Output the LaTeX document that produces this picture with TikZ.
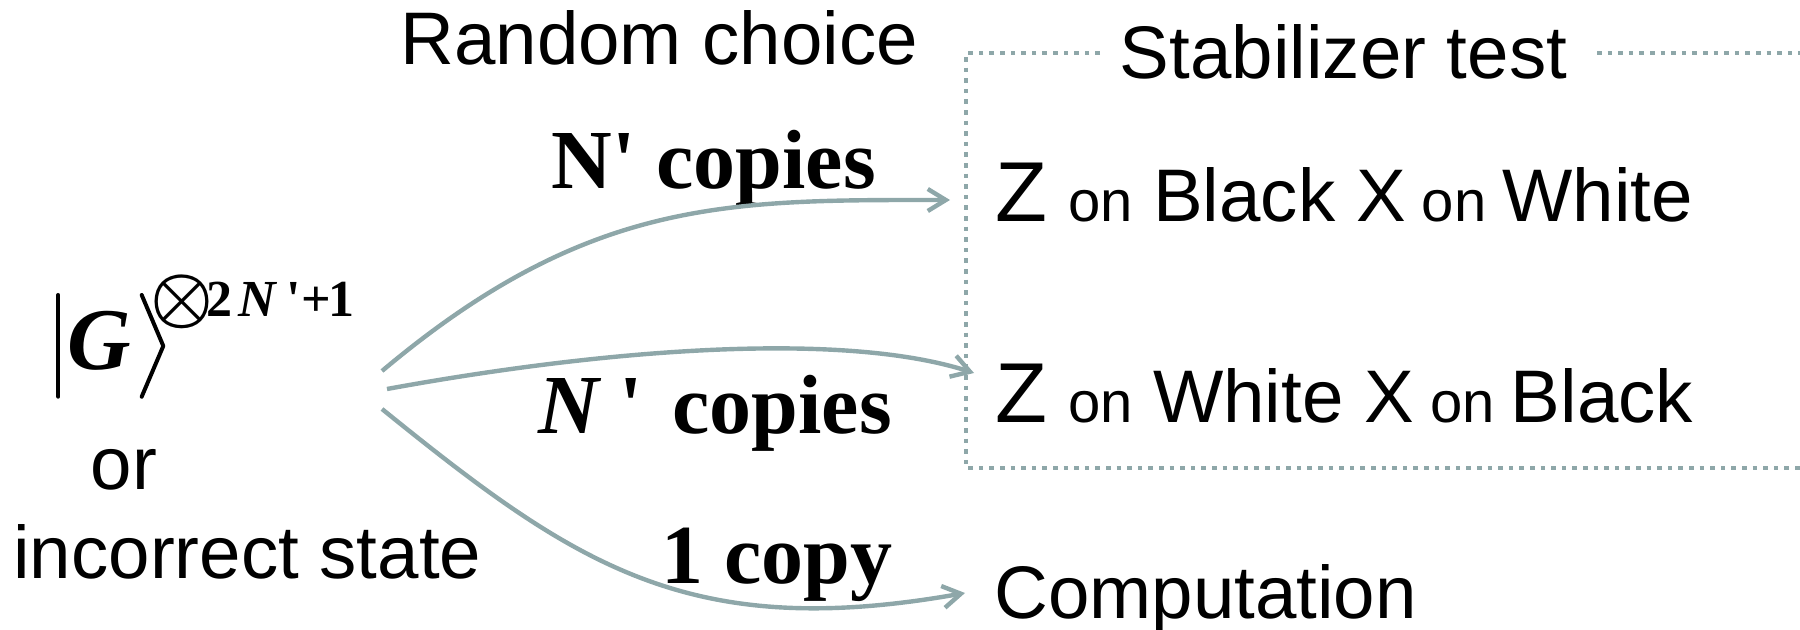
\documentclass[tikz,border=0pt]{standalone}
\usepackage{fontspec}
\usepackage{graphicx}
\setmainfont{Liberation Sans}
\newfontfamily\tnr{Liberation Serif}[Ligatures=TeXOff]
\usetikzlibrary{arrows.meta}
\definecolor{arr}{HTML}{8EA7A9}
\newcommand\zsize{\fontsize{42.5pt}{50pt}\selectfont}
\newcommand\onsize{\fontsize{29pt}{34pt}\selectfont}
\begin{document}
\begin{tikzpicture}[x=0.5pt,y=-0.5pt,
  txt/.style={anchor=base west, inner sep=0pt, font=\fontsize{37.25pt}{44pt}\selectfont},
  lbl/.style={anchor=base west, inner sep=0pt, font=\tnr\bfseries\fontsize{42pt}{50pt}\selectfont},
  conn/.style={draw=arr, line width=2.2pt, -{Straight Barb[length=9pt,width=11pt]}},
  frame/.style={draw=arr, line width=2pt, dash pattern=on 2.3pt off 3pt},
  delim/.style={draw=black, line width=2pt, line cap=round, line join=round}]
\useasboundingbox (0,0) rectangle (1800,630);
\clip (0,0) rectangle (1800,630);
% titles
\node[txt] (rc) at (400,65) {Random choice};
\node[txt] (stab) at (1119.5,78.3) {Stabilizer test};
% frame
\draw[frame] (1100,53.3) -- (966,53.3) -- (966,468.3) -- (1820,468.3);
\draw[frame] (1597,53.3) -- (1820,53.3);
% right texts
\node[txt] (l1) at (995,221.7) {{\zsize Z} {\onsize on} Black X{\onsize\ on\ }White};
\node[txt] (l2) at (995,422.3) {{\zsize Z} {\onsize on} White X{\onsize\ on\ }Black};
\node[txt] (comp) at (994,618) {Computation};
% left state
\draw[delim] (58.3,295) -- (58.3,396.7);
\node[anchor=base west, inner sep=0pt, font=\tnr\bfseries\itshape\fontsize{44pt}{50pt}\selectfont] (G) at (67,370) {G};
\draw[delim] (141.7,295) -- (163.3,346) -- (141.7,396.7);
\node[anchor=base west, inner sep=0pt, font=\tnr\bfseries\fontsize{26pt}{30pt}\selectfont] (sup) at (168,316.7)
  {\makebox[14pt][c]{\raisebox{-1.25pt}{\fontsize{20pt}{24pt}\selectfont\scalebox{1.7}{\boldmath$\otimes$}}}\hspace{5pt}2\hspace{3pt}{\itshape N}\hspace{5.35pt}'+\hspace{-1.3pt}1};
\node[txt] (or) at (90.5,490) {or};
\node[txt] (inc) at (13,578.3) {incorrect state};
% labels
\node[lbl] (c1) at (551,188.3) {N' copies};
\node[lbl] (c2) at (538,434) {\rlap{\itshape N}\hspace{40.5pt}\rlap{'}\hspace{26.5pt}copies};
\node[lbl] (c3) at (660.6,583.3) {1 copy};
% connectors
\coordinate (s1) at (382,371);
\coordinate (s2) at (387,389);
\coordinate (s3) at (382,409);
\coordinate (e1) at (950,200);
\coordinate (e2) at (974,373);
\coordinate (e3) at (965,593);
\draw[conn] (s1) .. controls (589,197) and (730,200) .. (e1);
\draw[conn] (s2) .. controls (600,350) and (840,330) .. (e2);
\draw[conn] (s3) .. controls (576,566) and (689,642) .. (e3);
\end{tikzpicture}
\end{document}
